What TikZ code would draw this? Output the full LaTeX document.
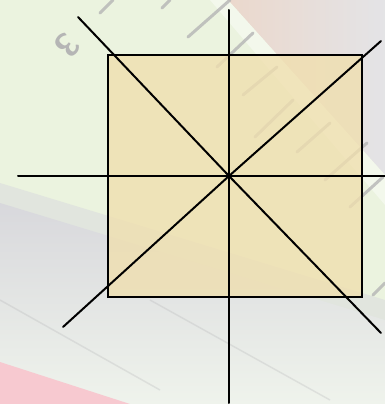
\documentclass[tikz,border=0pt]{standalone}
\usepackage{xcolor}

\definecolor{bggreen}{HTML}{EBF3DF}
\definecolor{bggray}{HTML}{D8D8DC}
\definecolor{bgpale}{HTML}{EFF3EC}
\definecolor{bgpink}{HTML}{F7C9D0}
\definecolor{bgpeach}{HTML}{EBD8CC}
\definecolor{tickgray}{HTML}{B5B5B5}
\definecolor{squarefill}{HTML}{F0DFAE}

\tikzset{
    symline/.style={line width=2pt, line cap=round},
    ruletick/.style={tickgray, line width=3pt, opacity=0.8, line cap=round}
}

\begin{document}
\begin{tikzpicture}[x=1pt, y=-1pt]
    \useasboundingbox (0,0) rectangle (385,404);

    % background photo, roughly
    \fill [bggreen] (0,0) rectangle (385,404);
    \fill [bggray!50!bggreen] (0,183) -- (385,300) -- (385,404) -- (0,404) -- cycle;
    \shade [top color=bggray, bottom color=bgpale] (0,203) -- (385,320) -- (385,404) -- (0,404) -- cycle;
    \draw [bggray!80!black, opacity=0.25, line width=1.5pt] (0,300) -- (160,390);
    \draw [bggray!80!black, opacity=0.25, line width=1.5pt] (150,300) -- (330,400);
    \fill [bgpink] (0,362) -- (130,404) -- (0,404) -- cycle;
    \shade [left color=bgpeach, right color=bggray!70!white] (228,0) -- (385,0) -- (385,175) -- cycle;
    \fill [bggreen!60!white] (385,175) -- (385,205) -- (210,0) -- (228,0) -- cycle;

    \draw [ruletick] (100,13) -- (113,0);
    \draw [ruletick] (162,8) -- (170,0);
    \draw [ruletick] (188,37) -- (230,0);
    \draw [ruletick] (217,67) -- (253,33);
    \draw [ruletick] (243,95) -- (277,67);
    \draw [ruletick] (255,137) -- (293,100);
    \draw [ruletick] (297,152) -- (330,123);
    \draw [ruletick] (325,180) -- (367,143);
    \draw [ruletick] (350,207) -- (383,177);
    \draw [ruletick] (373,295) -- (385,283);
    \node [tickgray, rotate=-130, font=\sffamily\bfseries\fontsize{34}{34}\selectfont] (num) at (68,45) {3};

    % the square and its lines of symmetry
    \draw [line width=2pt, fill=squarefill, fill opacity=0.78] (108,55) rectangle (362,297);

    \coordinate (O) at (229,176);
    \coordinate (n) at (229,10);
    \coordinate (s) at (229,403);
    \coordinate (w) at (18,176);
    \coordinate (e) at (385,176);
    \coordinate (nw) at (78,17);
    \coordinate (se) at (381,333);
    \coordinate (ne) at (381,41);
    \coordinate (sw) at (63,327);

    \draw [symline] (n) -- (s);
    \draw [symline] (w) -- (e);
    \draw [symline] (nw) -- (O) -- (se);
    \draw [symline] (sw) -- (O) -- (ne);
\end{tikzpicture}
\end{document}
